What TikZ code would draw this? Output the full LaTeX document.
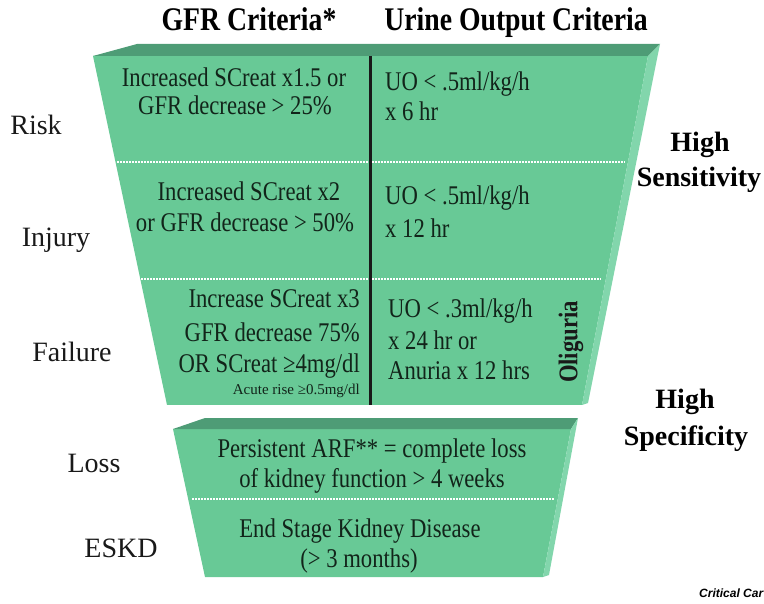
\documentclass[tikz,border=0pt]{standalone}
\usepackage{fontspec}
\setmainfont{Liberation Serif}
\newfontfamily\cond[FakeStretch=0.84]{Liberation Serif}
\newfontfamily\critfont{Liberation Sans}
\definecolor{front}{HTML}{68C996}
\definecolor{topface}{HTML}{4E9C76}
\definecolor{sideface}{HTML}{82D6AC}
\definecolor{ink}{HTML}{12241A}
\begin{document}
\begin{tikzpicture}[x=1pt,y=-1pt,
  boxtxt/.style={font=\cond\fontsize{27}{30}\selectfont, text=ink, inner sep=0pt, anchor=base},
  boxl/.style={boxtxt, anchor=base west},
  boxr/.style={boxtxt, anchor=base east},
  head/.style={font=\cond\bfseries\fontsize{33}{36}\selectfont, inner sep=0pt, anchor=base},
  lvl/.style={font=\fontsize{28}{30}\selectfont, inner sep=0pt, anchor=base, text=black!90},
  sidelbl/.style={font=\bfseries\fontsize{28}{30}\selectfont, inner sep=0pt, anchor=base},
  sepline/.style={white, line width=1.6pt, dash pattern=on 2pt off 1pt},
  divider/.style={black!90, line width=3pt}
]
\useasboundingbox (0,0) rectangle (764,604);

% upper block
\fill[front] (93,56) -- (648,56) -- (582,405) -- (167,405) -- cycle;
\fill[topface] (93,56) -- (137,44) -- (660,44) -- (648,56) -- cycle;
\fill[sideface] (648,56) -- (660,44) -- (588,403) -- (582,405) -- cycle;
\coordinate (sr1a) at (117,162); \coordinate (sr1b) at (625,162);
\coordinate (sr2a) at (141,279); \coordinate (sr2b) at (601,279);
\draw[sepline] (sr1a) -- (sr1b);
\draw[sepline] (sr2a) -- (sr2b);
\coordinate (divtop) at (370,56); \coordinate (divbot) at (370,405);
\draw[divider] (divtop) -- (divbot);

% lower block
\fill[front] (173,429) -- (571,429) -- (543,577) -- (205,577) -- cycle;
\fill[topface] (173,429) -- (205,418) -- (578,418) -- (571,429) -- cycle;
\fill[sideface] (571,429) -- (578,418) -- (549,575) -- (543,577) -- cycle;
\coordinate (sl1a) at (192,499); \coordinate (sl1b) at (554,499);
\draw[sepline] (sl1a) -- (sl1b);

% headers
\node[head] (hgfr) at (249,31) {GFR Criteria*};
\node[head] (huo) at (516,31) {Urine Output Criteria};

% level labels
\node[lvl] (risk) at (36,135) {Risk};
\node[lvl] (injury) at (56,247) {Injury};
\node[lvl] (failure) at (72,362) {Failure};
\node[lvl] (loss) at (94,472) {Loss};
\node[lvl] (eskd) at (121,557) {ESKD};

% right labels
\node[sidelbl] (hs1) at (700,152) {High};
\node[sidelbl] (hs2) at (699,187) {Sensitivity};
\node[sidelbl] (hp1) at (685,409) {High};
\node[sidelbl] (hp2) at (686,445) {Specificity};

% risk
\node[boxtxt] (rg1) at (234,87) {Increased SCreat x1.5 or};
\node[boxtxt] (rg2) at (235,115) {GFR decrease > 25\%};
\node[boxl] (ru1) at (385,91) {UO < .5ml/kg/h};
\node[boxl] (ru2) at (385,121) {x 6 hr};

% injury
\node[boxtxt] (ig1) at (249,201) {Increased SCreat x2};
\node[boxtxt] (ig2) at (245,232) {or GFR decrease > 50\%};
\node[boxl] (iu1) at (385,205) {UO < .5ml/kg/h};
\node[boxl] (iu2) at (385,238) {x 12 hr};

% failure
\node[boxr] (fg1) at (360,308) {Increase SCreat x3};
\node[boxr] (fg2) at (360,342) {GFR decrease 75\%};
\node[boxr] (fg3) at (360,373) {OR SCreat ≥4mg/dl};
\node[boxr, font=\fontsize{15}{17}\selectfont] (fg4) at (360,395) {Acute rise ≥0.5mg/dl};
\node[boxl] (fu1) at (388,318) {UO < .3ml/kg/h};
\node[boxl] (fu2) at (388,350) {x 24 hr or};
\node[boxl] (fu3) at (388,380) {Anuria x 12 hrs};
\node[rotate=90, inner sep=0pt, text=black!90, font=\cond\bfseries\fontsize{27}{30}\selectfont] (olig) at (571,342) {Oliguria};

% loss / eskd
\node[boxtxt] (lt1) at (372,457) {Persistent ARF** = complete loss};
\node[boxtxt] (lt2) at (372,487) {of kidney function > 4 weeks};
\node[boxtxt] (et1) at (360,537) {End Stage Kidney Disease};
\node[boxtxt] (et2) at (359,567) {(> 3 months)};

% source
\node[anchor=base west, inner sep=0pt, font=\critfont\bfseries\itshape\fontsize{12}{13}\selectfont] (src) at (699,597) {Critical Car};
\end{tikzpicture}
\end{document}
